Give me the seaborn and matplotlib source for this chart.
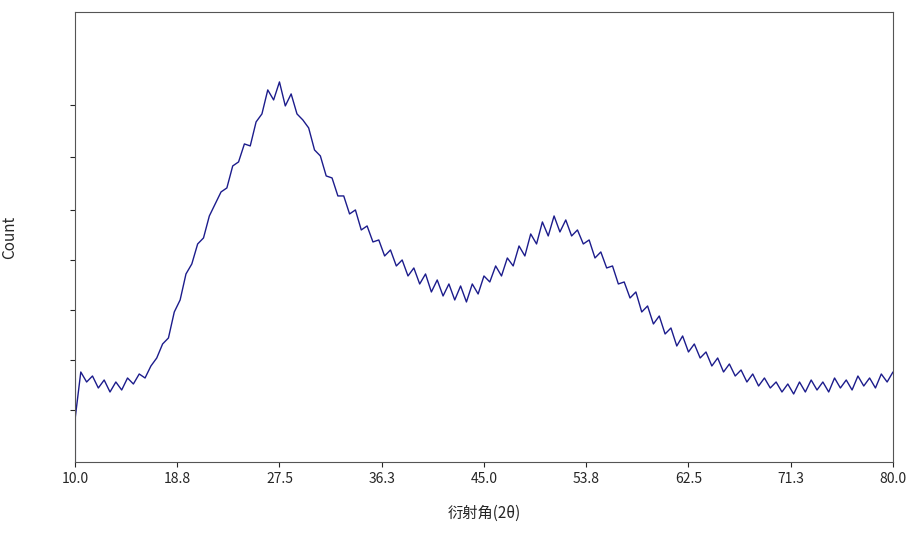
import numpy as np
import matplotlib
matplotlib.use("Agg")
import matplotlib.pyplot as plt
import seaborn as sns
import pandas as pd

sns.set_style("ticks")
plt.rcParams['font.family'] = ['Noto Sans CJK SC', 'DejaVu Sans']

counts = [0, 84, 90, 80, 86, 74, 82, 70, 80, 72, 84, 78, 88, 84, 96, 104, 118, 124, 150, 162, 188,
          198, 218, 224, 246, 258, 270, 274, 296, 300, 318, 316, 340, 348, 372, 362, 380, 356, 368,
          348, 342, 334, 312, 306, 286, 284, 266, 266, 248, 252, 232, 236, 220, 222, 206, 212, 196,
          202, 186, 194, 178, 188, 170, 182, 166, 178, 162, 176, 160, 178, 168, 186, 180, 196, 186,
          204, 196, 216, 206, 228, 218, 240, 226, 246, 230, 242, 226, 232, 218, 222, 204, 210, 194,
          196, 178, 180, 164, 170, 150, 156, 138, 146, 128, 134, 116, 126, 110, 118, 104, 110, 96,
          104, 90, 98, 86, 92, 80, 88, 76, 84, 74, 80, 70, 78, 68, 80, 70, 82, 72, 80, 70, 84, 74,
          82, 72, 86, 76, 84, 74, 88, 80, 90]
angles = [10.0] + list(np.arange(10.0, 80.01, 0.5))
xtick_vals = [10.0, 18.75, 27.5, 36.25, 45.0, 53.75, 62.5, 71.25, 80.0]
xtick_labels = ["10.0", "18.8", "27.5", "36.3", "45.0", "53.8", "62.5", "71.3", "80.0"]
ytick_vals = [52, 102, 152, 202, 252, 305, 357]

df = pd.DataFrame({"angle": angles, "count": counts})

fig = plt.figure(figsize=(9.14, 5.41), dpi=100)
ax = fig.add_axes([0.082, 0.146, 0.895, 0.832])
sns.lineplot(data=df, x="angle", y="count", ax=ax, color="#1c1c8c", linewidth=1.0, sort=False)
ax.set_xlim(10, 80)
ax.set_ylim(0, 450)
ax.set_xticks(xtick_vals)
ax.set_xticklabels(xtick_labels, fontsize=10)
ax.set_yticks(ytick_vals)
ax.set_yticklabels([])
ax.set_xlabel("衍射角(2θ)", fontsize=11, labelpad=14)
ax.set_ylabel("Count", fontsize=11)
ax.yaxis.set_label_coords(-0.07, 0.5)
for s in ax.spines.values():
    s.set_color("#555555")
    s.set_linewidth(0.8)
fig.savefig("out.png", dpi=100)
